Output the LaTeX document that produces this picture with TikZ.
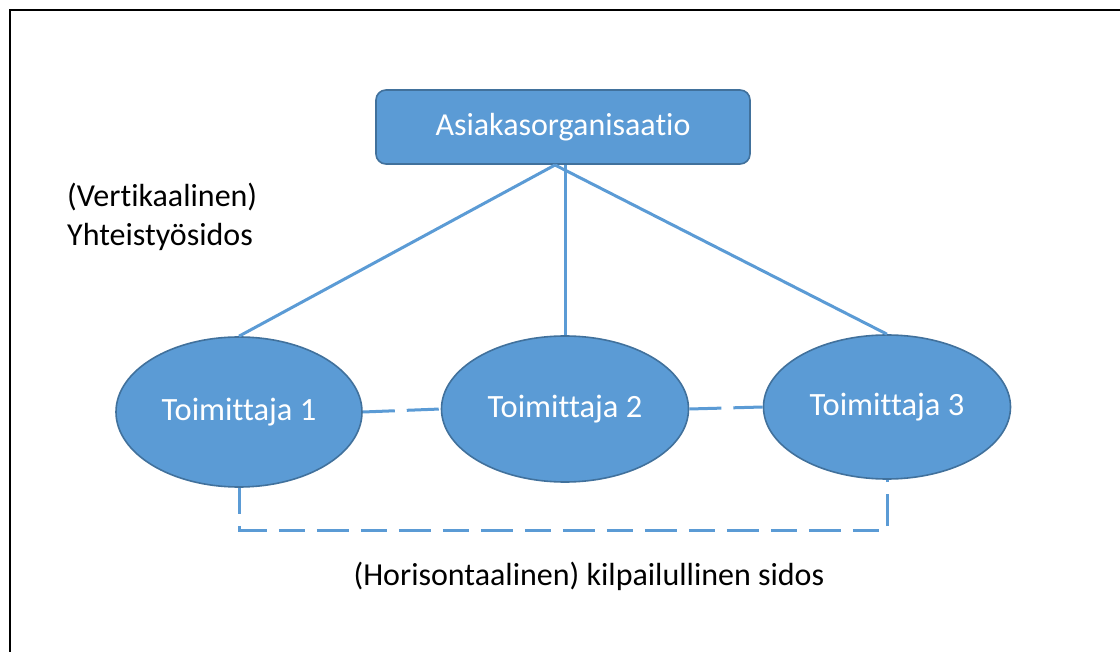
\documentclass[tikz,border=0pt]{standalone}
\usepackage{fontspec}
\setmainfont{Carlito}[Ligatures=NoCommon]
\usetikzlibrary{shapes.geometric}
\definecolor{fillblue}{HTML}{5B9BD5}
\definecolor{edgeblue}{HTML}{41719C}
\begin{document}
\begin{tikzpicture}[x=1pt,y=-1pt,
  orgbox/.style={draw=edgeblue,fill=fillblue,line width=1.6pt,rounded corners=10pt,
    minimum width=374pt,minimum height=74pt,text=white,font=\fontsize{32}{38}\selectfont},
  supplier/.style={ellipse,draw=edgeblue,fill=fillblue,line width=1.6pt,inner sep=0pt,
    text=white,font=\fontsize{32.5}{38}\selectfont},
  tie/.style={draw=fillblue,line width=3pt},
  rivalry/.style={tie,dash pattern=on 32pt off 12pt},
  note/.style={font=\fontsize{32}{39}\selectfont,text=black,inner sep=0pt}]
\useasboundingbox (0,0) rectangle (1120,652);
% frame (open on the right and at the bottom)
\draw[line width=2.2pt] (10,652) -- (10,10) -- (1120,10);

\node[orgbox] (org) at (563,127) {Asiakasorganisaatio};
\node[supplier,minimum width=246pt,minimum height=150pt] (s1) at (239,412) {Toimittaja 1};
\node[supplier,minimum width=247pt,minimum height=146pt] (s2) at (565,409) {Toimittaja 2};
\node[supplier,minimum width=247pt,minimum height=144pt] (s3) at (887,407) {Toimittaja 3};

\coordinate (hubL) at (555,165);
\coordinate (hubC) at (565,165);
\coordinate (low1) at (239,530);
\coordinate (low3) at (887,530);

% vertical cooperation ties
\draw[tie] (hubL) -- (s1.north);
\draw[tie] (hubC) -- (s2.north);
\draw[tie] (hubL) -- (s3.north);

% horizontal competitive ties
\draw[rivalry] (s1.east) -- (s2.west);
\draw[rivalry] (s2.east) -- (s3.west);
\draw[rivalry,dash pattern=on 26pt off 12pt on 32pt off 12pt] (s1.south) -- (low1) -- (low3) -- (s3.south);

\node[note,align=left,anchor=base west] (vert) at (67,246) {(Vertikaalinen)\\Yhteistyösidos};
\node[note,anchor=base] (horiz) at (589,585) {(Horisontaalinen) kilpailullinen sidos};
\end{tikzpicture}
\end{document}
